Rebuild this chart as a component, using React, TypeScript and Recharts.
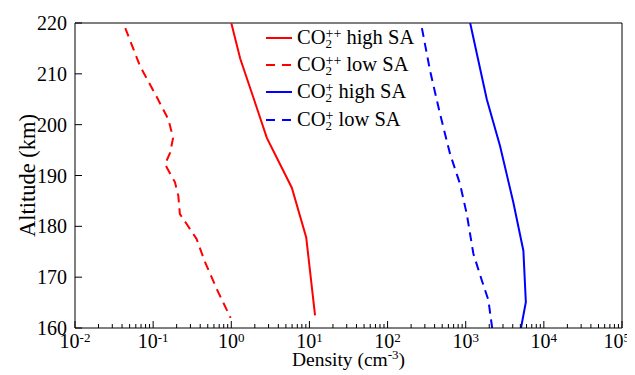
import React from "react";
import { LineChart, Line, XAxis, YAxis, ReferenceLine, Legend } from "recharts";

// CO2++ high SA (red solid)
const co2ppHighAlt = [220, 213, 205.3, 197.4, 187.6, 177.8, 162.5];
const co2ppHighDens = [1.0, 1.3, 1.92, 2.85, 5.95, 9.1, 11.8];
// CO2++ low SA (red dashed)
const co2ppLowAlt = [219, 211.5, 205.6, 201, 197.4, 194.5, 192.2, 188.7, 186, 182.4, 180.4, 177.5, 173, 167.7, 162];
const co2ppLowDens = [0.044, 0.068, 0.11, 0.157, 0.18, 0.165, 0.142, 0.19, 0.21, 0.22, 0.27, 0.36, 0.46, 0.65, 0.98];
// CO2+ high SA (blue solid)
const co2pHighAlt = [220, 205, 195.8, 184.7, 175.2, 165.1, 160];
const co2pHighDens = [1140, 1860, 2750, 4070, 5470, 5880, 5100];
// CO2+ low SA (blue dashed)
const co2pLowAlt = [219, 210.5, 202, 194.2, 188.3, 182.4, 174.6, 169.4, 165.5, 160];
const co2pLowDens = [275, 351, 471, 632, 847, 1032, 1254, 1605, 1950, 2180];

const xMajorTicks = [0.01, 0.1, 1, 10, 100, 1000, 10000, 100000];
const xMinorMultipliers = [2, 3, 4, 5, 6, 7, 8, 9];
const yTicks = [160, 170, 180, 190, 200, 210, 220];

const xTicks: number[] = [];
xMajorTicks.forEach((m, i) => {
  xTicks.push(m);
  if (i < xMajorTicks.length - 1) xMinorMultipliers.forEach((k) => xTicks.push(m * k));
});

const zip = (alt: number[], dens: number[]) => alt.map((a, i) => ({ alt: a, d: dens[i] }));

const series = [
  { name: "pp", sup: "++", label: "high SA", color: "#ff0000", dash: undefined, data: zip(co2ppHighAlt, co2ppHighDens) },
  { name: "pp-low", sup: "++", label: "low SA", color: "#ff0000", dash: "9 6", data: zip(co2ppLowAlt, co2ppLowDens) },
  { name: "p", sup: "+", label: "high SA", color: "#0000ff", dash: undefined, data: zip(co2pHighAlt, co2pHighDens) },
  { name: "p-low", sup: "+", label: "low SA", color: "#0000ff", dash: "9 6", data: zip(co2pLowAlt, co2pLowDens) },
];

const FONT = "'Liberation Serif', 'Times New Roman', serif";

const XTick = (props: any) => {
  const { x, y, payload } = props;
  const v = payload.value as number;
  const lg = Math.log10(v);
  const e = Math.round(lg);
  const major = Math.abs(lg - e) < 1e-6;
  const isLast = v === xMajorTicks[xMajorTicks.length - 1];
  return (
    <g>
      <line x1={x} y1={y} x2={x} y2={y - (major ? 7 : 4)} stroke="#000" strokeWidth={1} />
      {major && (
        <text
          x={isLast ? x + 8 : x}
          y={y + 20}
          textAnchor={isLast ? "end" : "middle"}
          fontFamily={FONT}
          fontSize={20}
          fill="#000"
        >
          10
          <tspan dy={-6} fontSize={13}>
            {e < 0 ? "-" + Math.abs(e) : String(e)}
          </tspan>
        </text>
      )}
    </g>
  );
};

const YTick = (props: any) => {
  const { x, y, payload } = props;
  return (
    <g>
      <line x1={x} y1={y} x2={x + 7} y2={y} stroke="#000" strokeWidth={1} />
      <text x={x - 8} y={y + 7} textAnchor="end" fontFamily={FONT} fontSize={20} fill="#000">
        {payload.value}
      </text>
    </g>
  );
};

const XLabel = (props: any) => {
  const vb = props.viewBox || {};
  const cx = vb.x + vb.width / 2;
  const by = vb.y + 38;
  return (
    <text x={cx} y={by} textAnchor="middle" fontFamily={FONT} fontSize={19.5} fill="#000">
      Density (cm
      <tspan dy={-7} fontSize={13}>
        -3
      </tspan>
      <tspan dy={7}>)</tspan>
    </text>
  );
};

const YLabel = (props: any) => {
  const vb = props.viewBox || {};
  const cx = 19;
  const cy = vb.y + vb.height / 2;
  return (
    <text
      x={cx}
      y={cy}
      transform={`rotate(-90 ${cx} ${cy})`}
      textAnchor="middle"
      dominantBaseline="central"
      fontFamily={FONT}
      fontSize={22.5}
      fill="#000"
    >
      Altitude (km)
    </text>
  );
};

const LegendContent = () => (
  <div style={{ fontFamily: FONT, fontSize: 20.5, color: "#000" }}>
    {series.map((s) => (
      <div key={s.name} style={{ display: "flex", alignItems: "center", height: 27.2, whiteSpace: "nowrap" }}>
        <svg width={26} height={4} style={{ display: "block", flex: "none" }}>
          <line x1={0} y1={2} x2={26} y2={2} stroke={s.color} strokeWidth={2} strokeDasharray={s.dash ? "9 7" : undefined} />
        </svg>
        <span style={{ marginLeft: 5, lineHeight: "20px" }}>
          CO
          <span
            style={{
              display: "inline-block",
              verticalAlign: "-4px",
              lineHeight: "10px",
              fontSize: 14,
              textAlign: "left",
            }}
          >
            <span style={{ display: "block" }}>{s.sup}</span>
            <span style={{ display: "block", fontSize: 13 }}>2</span>
          </span>
          {" " + s.label}
        </span>
      </div>
    ))}
  </div>
);

export default function App() {
  return (
    <LineChart
      width={635}
      height={367}
      layout="vertical"
      margin={{ top: 15, right: 21, left: 0, bottom: 0 }}
    >
      <XAxis
        type="number"
        dataKey="d"
        scale="log"
        domain={[0.01, 100000]}
        allowDataOverflow
        ticks={xTicks}
        interval={0}
        tickSize={0}
        tickMargin={0}
        tickLine={false}
        tick={<XTick />}
        height={47}
        axisLine={{ stroke: "#000", strokeWidth: 1 }}
        label={{ content: (p: any) => <XLabel {...p} /> }}
      />
      <YAxis
        type="number"
        dataKey="alt"
        domain={[160, 220]}
        reversed
        allowDataOverflow
        ticks={yTicks}
        interval={0}
        tickSize={0}
        tickMargin={0}
        tickLine={false}
        tick={<YTick />}
        width={67}
        axisLine={{ stroke: "#000", strokeWidth: 1 }}
        label={{ content: (p: any) => <YLabel {...p} /> }}
      />
      <ReferenceLine y={220} stroke="#000" strokeWidth={1} />
      <ReferenceLine x={100000} stroke="#000" strokeWidth={1} />
      {series.map((s) => (
        <Line
          key={s.name}
          data={s.data}
          dataKey="d"
          type="linear"
          stroke={s.color}
          strokeWidth={2}
          strokeDasharray={s.dash}
          dot={false}
          activeDot={false}
          isAnimationActive={false}
        />
      ))}
      <Legend
        layout="vertical"
        align="center"
        verticalAlign="middle"
        content={<LegendContent />}
        wrapperStyle={{ left: 258, top: 16.5, width: 200, height: 110 }}
      />
    </LineChart>
  );
}
